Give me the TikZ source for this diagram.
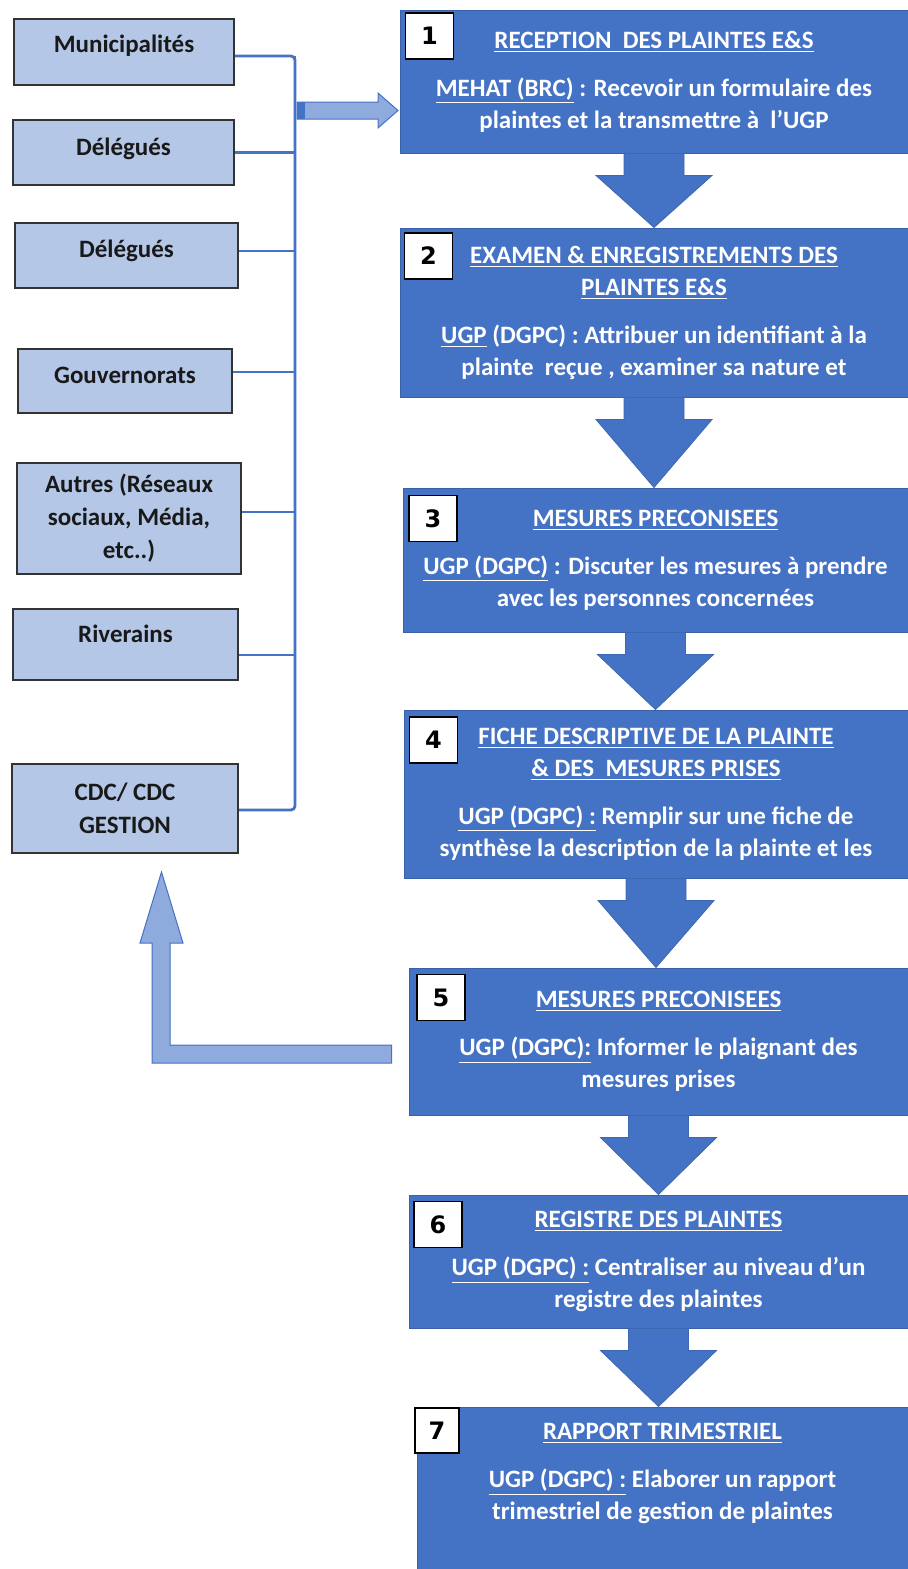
\documentclass[tikz,border=0pt]{standalone}
\usepackage{fontspec}
\setmainfont{Carlito}
\newfontfamily\chiffres{DejaVu Sans}
\usetikzlibrary{calc}
\definecolor{bleu}{HTML}{4472C4}
\definecolor{bleupale}{HTML}{B4C7E7}
\definecolor{bleufleche}{HTML}{8FAADC}
\begin{document}
\begin{tikzpicture}[x=0.5pt,y=-0.5pt,acteur/.style={shape=rectangle,draw=black!80,fill=bleupale,line width=1pt,inner sep=0pt,align=center,text=black!90,font=\bfseries\fontsize{12.5}{16.5}\selectfont},uneligne/.style={text height=9pt,text depth=#1},uneligne/.default=8pt,etape/.style={shape=rectangle,fill=bleu,draw=bleu!85!black,line width=0.5pt,inner sep=0pt,align=center,text=white,font=\bfseries\fontsize{12.5}{16}\selectfont},numero/.style={shape=rectangle,draw=black,fill=white,line width=0.8pt,minimum width=24pt,minimum height=23pt,inner sep=0pt,font=\chiffres\bfseries\fontsize{12}{12}\selectfont},liaison/.style={draw=bleu,line width=1.4pt},bloc/.style={fill=bleu,draw=bleu!90!black,line width=0.4pt},blocclair/.style={fill=bleufleche,draw=bleu,line width=0.5pt}]
\useasboundingbox (0,0) rectangle (907,1569);
% sources des plaintes
\node[acteur,uneligne=9pt,minimum width=110pt,minimum height=33pt] (M) at (124,52) {Municipalités};
\node[acteur,uneligne=6.5pt,minimum width=110.5pt,minimum height=32.5pt] (D1) at (123.5,152.5) {Délégués};
\node[acteur,uneligne=7.5pt,minimum width=111.5pt,minimum height=32.5pt] (D2) at (126.5,255.5) {Délégués};
\node[acteur,uneligne=7pt,minimum width=107pt,minimum height=32pt] (G) at (125,381) {Gouvernorats};
\node[acteur,minimum width=112pt,minimum height=55.5pt] (A) at (129,518.5) {Autres (Réseaux\\sociaux, Média,\\etc..)};
\node[acteur,uneligne=11.5pt,minimum width=112.5pt,minimum height=35.5pt] (R) at (125.5,644.5) {Riverains};
\node[acteur,minimum width=113pt,minimum height=44.5pt] (C) at (125,808.5) {CDC/ CDC\\GESTION};
\coordinate (haut) at (295,56);
\coordinate (bas) at (295,810);
\draw[liaison,rounded corners=2pt] ($(M.east)+(0,4)$) -- (haut) -- (bas) -- ($(C.east)+(0,1.5)$);
\draw[liaison] (D1.east) -| (haut);
\draw[liaison] ($(D2.east)+(0,-4.5)$) -| (haut);
\draw[liaison] ($(G.east)+(0,-9)$) -| (haut);
\draw[liaison] ($(A.east)+(0,-6.5)$) -| (haut);
\draw[liaison] ($(R.east)+(0,10.5)$) -| (haut);
% etapes du traitement
\node[etape,minimum width=254pt,minimum height=71.5pt] (E1) at (654,81.5) {\underline{RECEPTION\ \ DES PLAINTES E\&S}\\[8pt]\underline{MEHAT (BRC)} : Recevoir un formulaire des\\plaintes et la transmettre à\ \ l’UGP};
\node[etape,minimum width=254pt,minimum height=84.5pt] (E2) at (654,312.5) {\underline{EXAMEN \& ENREGISTREMENTS DES}\\\underline{PLAINTES E\&S}\\[8pt]\underline{UGP} (DGPC) : Attribuer un identifiant à la\\plainte\ \ reçue , examiner sa nature et};
\node[etape,minimum width=252.5pt,minimum height=72pt] (E3) at (655.5,560) {\underline{MESURES PRECONISEES}\\[8pt]\underline{UGP (DGPC)} : Discuter les mesures à prendre\\avec les personnes concernées};
\node[etape,minimum width=252pt,minimum height=84pt] (E4) at (656,794) {\underline{FICHE DESCRIPTIVE DE LA PLAINTE}\\\underline{\& DES\ \ MESURES PRISES}\\[8pt]\underline{UGP (DGPC) :} Remplir sur une fiche de\\synthèse la description de la plainte et les};
\node[etape,minimum width=249.5pt,minimum height=73.5pt] (E5) at (658.5,1041.5) {\underline{MESURES PRECONISEES}\\[8pt]\underline{UGP (DGPC):} Informer le plaignant des\\mesures prises};
\node[etape,minimum width=249.5pt,minimum height=66.5pt] (E6) at (658.5,1261.5) {\underline{REGISTRE DES PLAINTES}\\[8pt]\underline{UGP (DGPC) :} Centraliser au niveau d’un\\registre des plaintes};
\node[etape,minimum width=245.5pt,minimum height=81.5pt] (E7) at (662.5,1488.5) {\underline{RAPPORT TRIMESTRIEL}\\[8pt]\underline{UGP (DGPC) :} Elaborer un rapport\\trimestriel de gestion de plaintes\\[1pt]\mbox{}};
\node[numero] (N1) at (429.5,36) {1};
\node[numero] (N2) at (428.5,256) {2};
\node[numero] (N3) at (433,518.5) {3};
\node[numero] (N4) at (433.5,740) {4};
\node[numero] (N5) at (441,997.5) {5};
\node[numero] (N6) at (438,1224.5) {6};
\node[numero,minimum width=22pt,minimum height=22.5pt] (N7) at (437,1430.5) {7};
% fleches
\foreach \a/\b in {E1/E2,E2/E3,E3/E4,E4/E5,E5/E6,E6/E7}
  \draw[bloc] ($(\a.south)+(-30,0)$) -- ($(\a.south)+(-30,22)$) -- ($(\a.south)+(-58,22)$) -- (\a.south |- \b.north) -- ($(\a.south)+(58,22)$) -- ($(\a.south)+(30,22)$) -- ($(\a.south)+(30,0)$) -- cycle;
\draw[blocclair] (297,102) -- (378,102) -- (378,93) -- (398,110.5) -- (378,128) -- (378,119) -- (297,119) -- cycle;
\fill[bleu] (297,102) rectangle (305,119);
\draw[blocclair] ($(E5.west)+(-17,3.5)$) -- (170,1045) -- (170,943) -- (183,943) -- ($(C.south)+(36.5,18)$) -- (140,943) -- (152,943) -- (152,1063) -- ($(E5.west)+(-17,21.5)$) -- cycle;
\end{tikzpicture}
\end{document}
